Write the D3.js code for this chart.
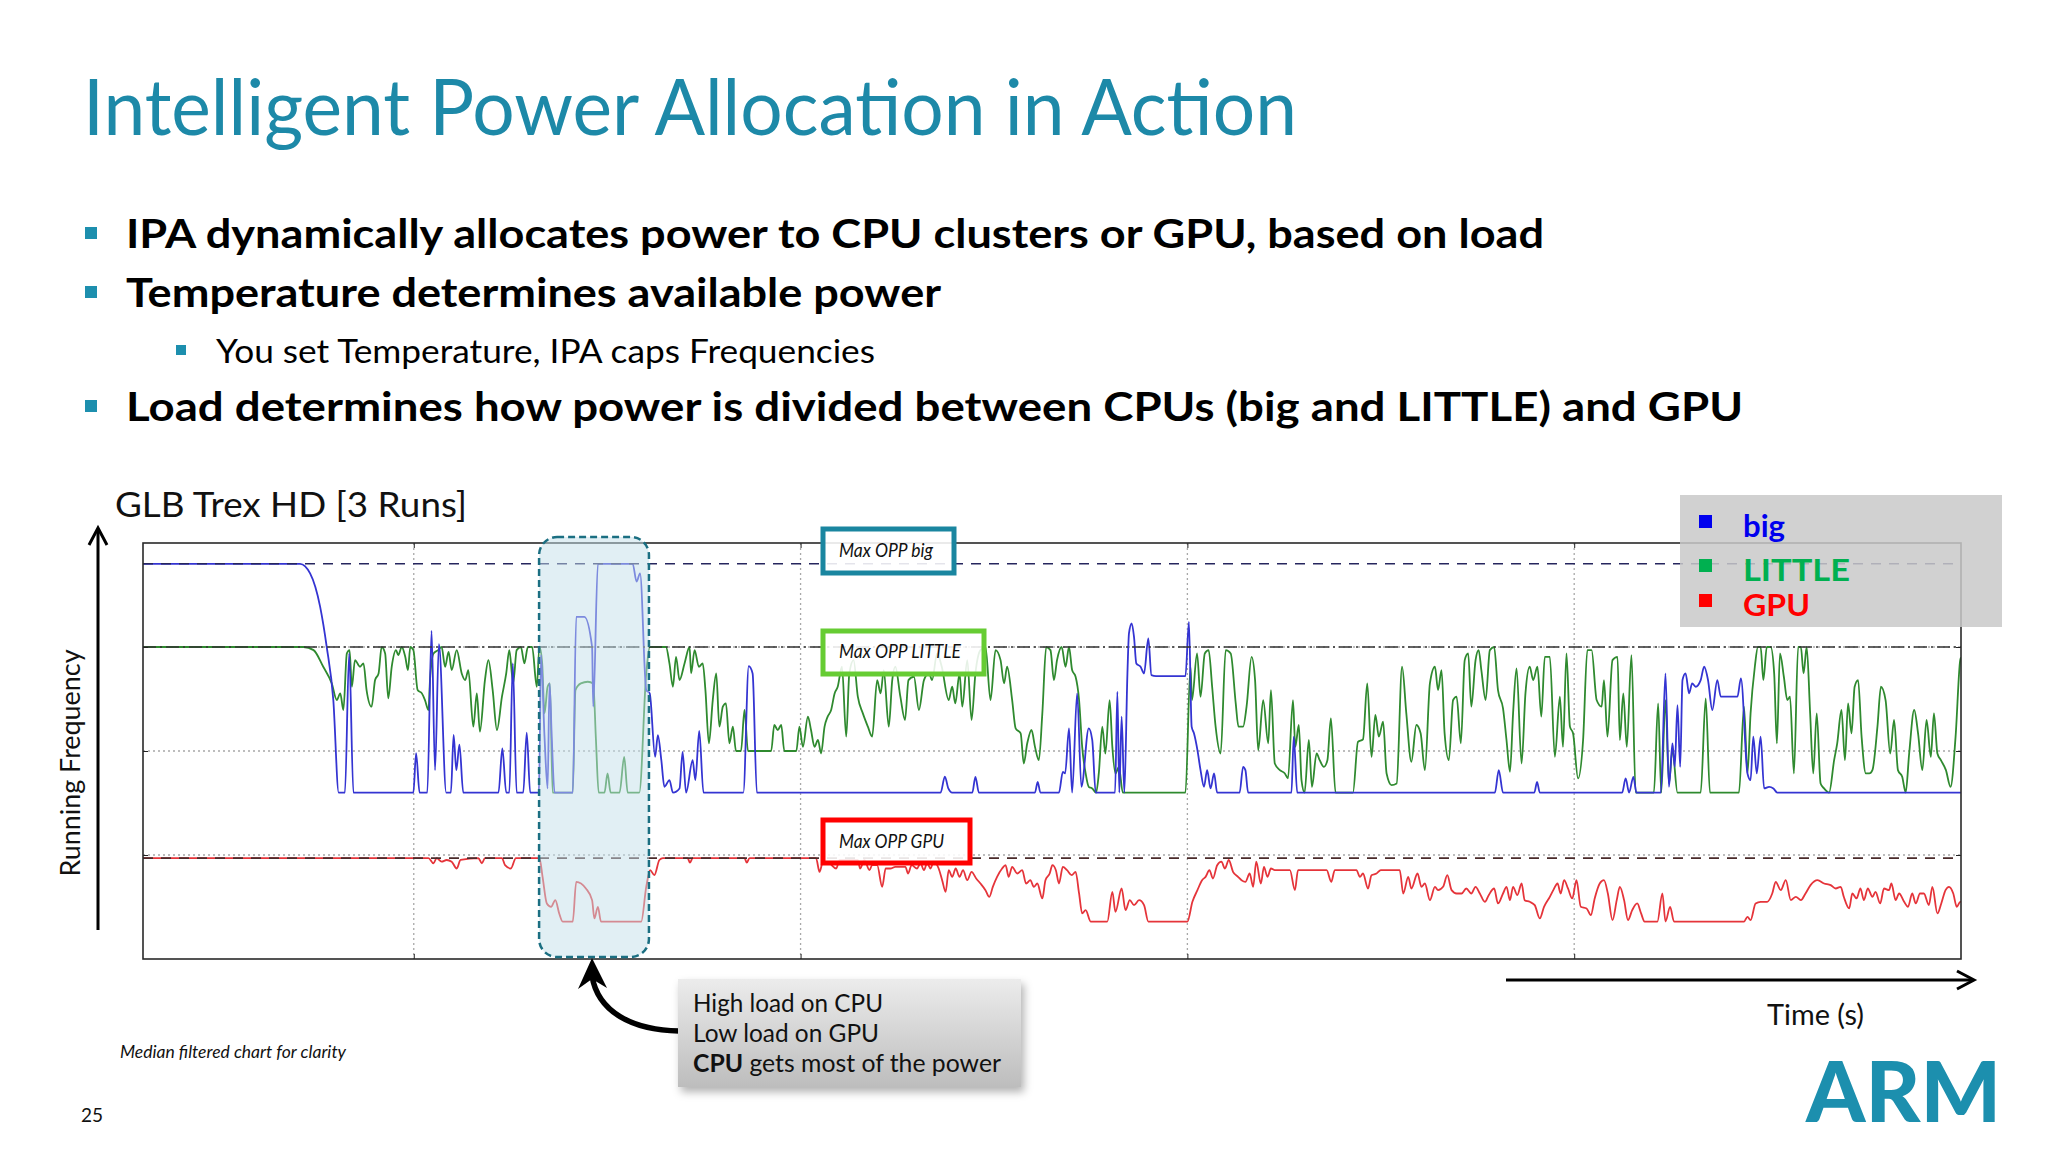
<!DOCTYPE html>
<html><head><meta charset="utf-8">
<script src="https://cdn.jsdelivr.net/npm/d3@7"></script>
<style>
html,body{margin:0;padding:0;background:#fff;}
svg{display:block;font-family:Lato,"Open Sans",sans-serif;}
</style></head><body>
<svg id="c" width="2048" height="1152"></svg>
<script>
// ---------------- DATA ----------------
const seriesNames = ["big", "LITTLE", "GPU"];
const maxOppLabels = ["Max OPP big", "Max OPP LITTLE", "Max OPP GPU"];
const maxOppLevels = [1900, 1500, 485];          // MHz
const timeTicks = [70, 170, 270, 370];            // s (grid)
const freqTicks = [500, 1000, 1500];              // MHz (grid)
const timeDomain = [0, 470];
const freqDomain = [0, 2000];
const highlightSpan = [102.4, 130.8];             // s, "High load on CPU" window

// [time (s), frequency (MHz)]
const bigRun = [[0,1900],[40.6,1900],[43.2,1854],[45.8,1693],[47.5,1500],[49.2,1245],[50.6,800],[52.2,800],[53.3,1469],[54.4,800],[69.9,800],[70.6,990],[71.5,800],[73.5,800],[74.6,1578],[75.5,908],[76.5,1514],[78.4,800],[79.6,800],[80.3,1077],[81.0,908],[81.8,1030],[82.8,800],[91.9,800],[92.9,1012],[93.9,800],[94.7,800],[95.6,1421],[96.6,800],[98.3,800],[99.2,1088],[100.1,800],[102.4,800],[102.9,1461],[103.8,1069],[104.6,820],[105.1,1325],[105.7,1053],[106.4,800],[111.1,800],[112.0,1645],[114.1,1645],[116.1,1500],[116.4,1213],[117.6,1900],[126.6,1900],[127.6,1814],[128.5,1854],[130.1,1293],[131.0,1277],[132.4,972],[133.1,1076],[134.0,956],[134.8,828],[136.1,860],[137.0,800],[138.7,820],[139.5,996],[140.4,800],[142.1,956],[142.8,860],[143.8,1097],[144.9,800],[155.2,800],[156.6,1408],[157.6,1373],[158.7,800],[206.2,800],[207.3,877],[208.2,820],[209.2,800],[214.4,800],[215.2,876],[216.1,800],[230.6,800],[231.3,852],[232.0,800],[236.8,800],[237.8,900],[238.4,892],[239.4,1109],[240.2,800],[241.5,1277],[242.6,828],[244.5,1109],[245.4,1053],[246.3,800],[251.3,800],[251.9,1285],[252.4,800],[253.0,1165],[253.7,800],[254.5,1373],[254.9,1565],[255.6,1613],[256.2,1549],[256.8,1421],[257.9,1405],[258.8,1373],[259.9,1541],[260.7,1365],[261.9,1360],[269.5,1360],[270.4,1621],[271.1,1117],[271.7,1085],[272.6,1004],[273.4,908],[274.3,828],[275.1,908],[276.0,820],[276.9,892],[277.7,800],[283.5,800],[284.4,924],[285.0,908],[285.7,800],[296.9,800],[297.5,1069],[298.4,800],[349.5,800],[350.5,908],[351.6,800],[359.7,800],[360.4,852],[361.1,800],[382.4,800],[383.3,868],[384.2,800],[385.3,876],[386.1,800],[392.4,800],[393.6,1373],[394.5,828],[395.4,1037],[396.0,924],[396.7,1221],[397.4,924],[398.0,1341],[398.8,1373],[399.7,1277],[400.5,1325],[401.4,1309],[402.7,1341],[403.6,1405],[404.6,1341],[405.7,1197],[407.0,1341],[407.9,1261],[412.2,1261],[413.1,1349],[414.8,892],[415.6,860],[416.3,1069],[417.2,892],[418.2,1069],[419.1,820],[420.4,828],[421.5,820],[422.5,800],[470,800]];

const littleRun = [[0,1500],[41.5,1500],[44.1,1485],[46.6,1405],[48.8,1325],[50.1,1245],[51.0,1277],[51.8,1197],[52.7,1469],[53.4,1485],[54.0,1309],[54.8,1437],[56.1,1405],[57.0,1421],[57.8,1293],[59.1,1213],[60.0,1341],[60.9,1373],[61.7,1500],[62.6,1469],[63.4,1253],[64.3,1405],[65.4,1485],[66.0,1461],[66.9,1500],[67.8,1453],[68.5,1389],[69.1,1500],[69.9,1485],[71.0,1293],[72.1,1277],[72.9,1245],[73.8,1197],[74.2,1341],[75.1,1469],[76.3,1485],[77.2,1500],[78.1,1405],[79.0,1477],[79.8,1389],[81.1,1485],[82.4,1373],[83.3,1341],[84.1,1389],[85.4,1117],[86.3,1277],[87.1,1093],[88.4,1341],[89.3,1437],[90.4,1293],[91.5,1101],[92.8,1261],[93.9,1373],[94.7,1485],[95.7,1325],[96.6,1485],[97.7,1500],[98.6,1421],[99.5,1500],[100.6,1500],[101.8,1309],[102.5,1500],[103.2,1421],[103.8,1181],[104.6,1309],[105.2,1325],[105.9,800],[111.1,800],[111.8,1293],[113.2,1325],[115.0,1333],[116.4,1325],[117.1,1053],[117.8,800],[119.3,800],[120.1,892],[120.9,800],[123.2,800],[124.4,972],[125.3,800],[128.3,800],[130.1,1373],[131.0,1500],[135.2,1500],[136.1,1421],[137.0,1309],[137.8,1453],[138.7,1341],[140.0,1421],[141.3,1500],[141.7,1373],[142.6,1485],[143.7,1405],[144.7,1421],[145.4,1293],[146.3,1037],[147.3,1245],[148.2,1373],[149.0,1117],[149.9,1213],[150.7,1229],[151.6,1037],[152.5,1117],[153.3,1000],[154.6,1000],[155.5,1197],[156.4,1000],[162.4,1000],[163.2,1125],[164.1,1101],[165.0,1125],[165.8,1000],[168.9,1000],[169.7,1117],[170.6,1020],[171.9,1165],[172.7,1101],[173.6,1020],[174.5,1053],[175.3,988],[176.2,1117],[177.0,1165],[177.9,1197],[178.8,1277],[179.6,1309],[180.7,1405],[181.8,1069],[182.6,1373],[183.7,1437],[184.8,1261],[186.1,1181],[187.4,1117],[188.5,1069],[189.8,1341],[190.7,1277],[191.5,1389],[192.8,1117],[193.7,1341],[194.5,1405],[195.8,1261],[197.0,1149],[197.9,1341],[199.3,1357],[200.6,1197],[201.9,1341],[203.2,1373],[204.0,1341],[205.3,1469],[206.5,1405],[208.3,1245],[209.2,1309],[210.0,1229],[211.1,1373],[211.8,1213],[213.1,1437],[214.2,1149],[215.2,1373],[216.5,1485],[217.8,1500],[219.1,1245],[220.4,1485],[221.7,1437],[222.6,1325],[223.4,1405],[224.7,1245],[225.6,1109],[226.9,1085],[227.7,940],[228.6,1037],[229.7,1101],[230.6,1020],[231.6,956],[232.5,1181],[233.5,1500],[234.6,1485],[235.5,1341],[236.3,1437],[237.5,1500],[238.5,1405],[239.4,1500],[240.2,1389],[241.1,1357],[242.0,1245],[242.8,1020],[243.7,892],[244.5,828],[245.4,820],[246.4,800],[247.1,892],[248.0,1117],[248.8,988],[249.9,1245],[250.6,1020],[251.4,892],[252.3,924],[253.3,800],[269.5,800],[270.8,1405],[271.2,1245],[272.5,1469],[273.4,1261],[274.5,1469],[275.5,1485],[276.4,1309],[277.3,1117],[278.6,988],[279.9,1485],[281.2,1469],[282.5,1229],[283.2,1117],[284.4,1117],[285.3,1213],[286.6,1453],[287.5,1341],[288.3,1004],[289.6,1245],[290.9,1037],[291.6,1293],[292.6,940],[293.9,908],[295.2,892],[296.0,868],[297.3,1245],[297.9,1020],[298.8,1125],[299.5,860],[300.3,800],[301.4,1053],[302.2,828],[303.4,988],[304.2,956],[305.3,924],[306.2,956],[307.1,1157],[308.3,800],[312.8,800],[314.1,1044],[315.4,1056],[316.5,1325],[317.6,972],[318.6,1173],[319.5,1069],[320.6,1141],[321.5,892],[322.8,836],[324.1,844],[325.5,1405],[326.6,1181],[327.9,948],[329.2,1125],[330.3,1085],[331.4,908],[332.7,1325],[334.0,1405],[334.8,1293],[335.7,1389],[336.5,1085],[337.6,956],[338.7,1245],[339.6,1261],[340.7,1037],[341.7,1437],[342.6,1469],[343.4,1213],[344.5,1437],[345.3,1485],[346.0,1389],[347.1,1245],[348.2,1485],[349.3,1500],[350.3,1293],[351.6,1205],[352.5,1053],[353.4,900],[354.2,1181],[355.1,1397],[356.4,940],[357.4,1277],[358.5,1405],[359.4,1341],[360.5,1405],[361.5,1165],[362.4,1453],[363.7,1453],[365.0,972],[366.3,1261],[367.1,1020],[368.0,1469],[368.9,1117],[369.7,1085],[371.0,868],[372.3,1053],[373.4,1485],[374.5,1485],[375.8,1245],[377.1,1213],[377.7,1341],[378.6,1069],[379.9,1437],[381.2,1453],[381.8,1053],[382.7,1277],[383.6,1020],[384.8,1461],[385.9,800],[390.6,800],[391.7,1229],[392.5,800],[393.6,1245],[394.5,844],[395.4,1004],[396.7,800],[402.7,800],[404.0,1253],[405.1,800],[412.6,800],[413.9,1213],[414.8,892],[415.6,1181],[416.7,1405],[417.5,1500],[418.2,1500],[418.9,1341],[419.8,1500],[420.8,1500],[421.7,1373],[422.4,1037],[423.2,1469],[424.2,1357],[425.1,1245],[425.8,1261],[426.8,892],[427.9,1500],[428.6,1500],[429.3,1373],[430.1,1500],[431.0,1181],[431.8,892],[432.7,1181],[433.7,844],[434.6,820],[435.9,800],[437.2,956],[438.0,1037],[439.1,1197],[440.0,956],[440.8,1229],[441.7,1085],[442.5,1309],[443.4,1341],[444.3,1069],[445.4,892],[446.3,892],[447.1,908],[448.4,1117],[449.3,1309],[450.5,1245],[451.7,988],[452.7,1149],[453.7,908],[454.8,876],[455.7,800],[456.6,988],[457.9,1197],[458.9,1085],[460.0,908],[461.1,1149],[462.2,972],[463.0,1181],[463.9,988],[464.8,956],[466.1,908],[467.3,828],[468.6,1069],[469.8,1437],[470,1450]];

const gpuRun = [[0,485],[73.8,485],[75.1,460],[75.9,485],[77.2,468],[78.5,476],[79.8,468],[81.1,435],[82.1,476],[86.7,485],[87.6,460],[88.4,485],[92.8,485],[93.6,451],[95.1,435],[96.4,485],[102.5,485],[103.3,395],[104.4,267],[105.5,251],[106.6,283],[107.6,219],[108.5,180],[111.1,180],[112.0,371],[114.5,339],[116.1,283],[116.7,195],[117.6,251],[118.4,180],[128.8,180],[130.1,347],[131.1,427],[132.2,403],[133.5,476],[134.4,485],[140.8,485],[141.4,463],[142.1,485],[155.5,485],[156.1,463],[156.8,485],[174.0,485],[174.9,419],[175.8,468],[177.5,460],[179.2,435],[180.1,476],[184.8,476],[185.4,435],[186.5,476],[187.8,427],[188.5,451],[189.8,451],[191.1,347],[192.0,435],[193.2,435],[194.5,443],[197.1,443],[197.8,411],[198.7,451],[200.1,435],[201.0,460],[201.9,427],[202.7,460],[203.6,435],[204.4,468],[205.7,435],[206.6,379],[207.5,323],[208.3,427],[209.2,395],[210.1,435],[211.1,395],[212.0,427],[213.1,379],[214.2,419],[215.4,387],[216.5,363],[217.8,331],[218.8,299],[219.7,347],[220.8,395],[222.1,435],[223.0,451],[223.8,395],[224.7,443],[226.0,411],[227.3,427],[228.3,363],[229.4,379],[230.3,347],[231.2,363],[232.5,291],[233.3,379],[234.4,411],[235.1,451],[236.0,427],[236.8,363],[237.8,443],[238.9,427],[240.1,403],[241.1,419],[242.0,315],[242.8,219],[243.7,235],[245.0,180],[249.3,180],[250.6,323],[251.4,227],[253.0,339],[254.0,235],[255.1,283],[256.2,259],[257.5,283],[258.8,259],[259.9,180],[270.0,180],[271.3,275],[272.6,331],[273.8,379],[274.7,395],[275.7,427],[276.6,387],[277.7,451],[278.8,468],[279.7,435],[280.7,476],[281.8,419],[283.1,395],[284.0,379],[285.0,371],[286.1,411],[287.0,347],[287.8,468],[289.0,363],[289.8,443],[290.7,395],[291.6,435],[292.6,427],[296.5,427],[297.8,331],[298.6,427],[306.0,427],[307.2,371],[308.1,427],[313.7,427],[314.6,395],[315.4,411],[316.7,339],[317.6,403],[318.9,411],[320.0,427],[324.9,427],[325.8,315],[327.1,395],[327.9,339],[329.5,411],[330.5,347],[331.4,363],[332.7,283],[334.0,347],[334.8,331],[336.1,347],[337.2,403],[338.3,331],[339.6,315],[340.9,315],[342.1,339],[343.4,315],[344.5,347],[345.6,315],[346.9,275],[347.9,307],[349.3,339],[350.3,267],[351.6,315],[352.5,347],[353.4,283],[354.2,347],[355.3,307],[356.4,363],[357.2,283],[358.5,275],[359.8,259],[361.1,195],[362.2,251],[363.7,299],[364.6,331],[365.7,363],[366.5,315],[367.4,379],[368.4,339],[369.5,291],[370.6,379],[371.7,251],[373.2,243],[374.3,211],[375.3,291],[376.6,363],[377.7,379],[378.7,315],[379.9,187],[381.0,283],[381.8,347],[382.9,283],[383.9,187],[385.0,235],[386.3,267],[387.3,219],[388.2,180],[391.5,180],[392.8,315],[393.6,180],[394.8,251],[395.8,180],[413.9,180],[414.8,203],[415.6,187],[416.9,267],[418.2,275],[419.9,275],[421.2,315],[422.1,371],[423.4,331],[424.7,379],[426.0,283],[427.3,299],[428.6,283],[429.8,315],[431.1,355],[432.9,379],[434.6,363],[436.3,355],[437.6,339],[438.9,347],[439.7,299],[441.1,243],[441.9,315],[443.0,291],[444.0,339],[444.9,283],[445.9,339],[447.1,299],[447.9,323],[449.1,267],[450.1,339],[451.4,331],[452.0,363],[453.1,283],[454.0,315],[455.3,275],[456.3,251],[457.4,315],[458.3,267],[459.4,315],[460.4,315],[461.7,259],[462.6,347],[463.9,219],[464.9,267],[466.0,331],[466.9,347],[468.0,315],[468.9,251],[469.8,275],[470,275]];

const runs = [bigRun, littleRun, gpuRun];

// ---------------- DRAW ----------------
const svg = d3.select('#c');
const P = {l:143, r:1961, t:543, b:959};
const x = d3.scaleLinear().domain(timeDomain).range([P.l, P.r]);
const y = d3.scaleLinear().domain(freqDomain).range([P.b, P.t]);

const defs = svg.append('defs');
defs.append('clipPath').attr('id','pc').append('rect')
  .attr('x',P.l).attr('y',P.t).attr('width',P.r-P.l).attr('height',P.b-P.t);
const gr = defs.append('linearGradient').attr('id','boxg').attr('x1',0).attr('y1',0).attr('x2',0).attr('y2',1);
gr.append('stop').attr('offset','0%').attr('stop-color','#ececec');
gr.append('stop').attr('offset','100%').attr('stop-color','#bdbdbd');
const f = defs.append('filter').attr('id','sh').attr('x','-10%').attr('y','-10%').attr('width','130%').attr('height','140%');
f.append('feDropShadow').attr('dx',3).attr('dy',5).attr('stdDeviation',4).attr('flood-color','#000').attr('flood-opacity',0.3);

const teal = '#1d89a8';

// Title
svg.append('text').attr('x',83).attr('y',135).attr('font-size',78).attr('fill',teal)
  .attr('textLength',1214).attr('lengthAdjust','spacingAndGlyphs')
  .text('Intelligent Power Allocation in Action');

// Bullets
const bullets = [
  {t:'IPA dynamically allocates power to CPU clusters or GPU, based on load', x:126, y:248, w:1418, lvl:0},
  {t:'Temperature determines available power', x:126, y:307, w:815, lvl:0},
  {t:'You set Temperature, IPA caps Frequencies', x:216, y:363, w:659, lvl:1},
  {t:'Load determines how power is divided between CPUs (big and LITTLE) and GPU', x:126, y:421, w:1617, lvl:0}
];
bullets.forEach(b=>{
  const s = b.lvl ? 10 : 12;
  svg.append('rect').attr('x', b.lvl?176:85).attr('y', b.y - (b.lvl?18:21)).attr('width',s).attr('height',s).attr('fill','#1d8fae');
  svg.append('text').attr('x',b.x).attr('y',b.y).attr('font-size', b.lvl?33:40)
    .attr('font-weight', b.lvl?400:700).attr('fill','#000')
    .attr('textLength',b.w).attr('lengthAdjust','spacingAndGlyphs').text(b.t);
});

// Chart title
svg.append('text').attr('x',115).attr('y',517).attr('font-size',35).attr('fill','#111')
  .attr('textLength',352).attr('lengthAdjust','spacingAndGlyphs').text('GLB Trex HD [3 Runs]');

// Grid
const grid = svg.append('g');
grid.selectAll('.vg').data(timeTicks).join('line')
  .attr('x1',d=>x(d)).attr('x2',d=>x(d)).attr('y1',P.t).attr('y2',P.b)
  .attr('stroke','#a8a8a8').attr('stroke-width',1.3).attr('stroke-dasharray','2,3');
grid.selectAll('.hg').data(freqTicks).join('line')
  .attr('x1',P.l).attr('x2',P.r).attr('y1',d=>y(d)).attr('y2',d=>y(d))
  .attr('stroke','#a8a8a8').attr('stroke-width',1.3).attr('stroke-dasharray','2,3');

// Data lines
const line = d3.line().x(d=>x(d[0])).y(d=>y(d[1])).curve(d3.curveMonotoneX);
const lineColors = ['#3434d2', '#2f8a2f', '#e5343a'];
const drawOrder = [2, 1, 0];
const lg = svg.append('g').attr('clip-path','url(#pc)');
drawOrder.forEach(i=>{
  lg.append('path').datum(runs[i]).attr('d',line).attr('fill','none')
    .attr('stroke',lineColors[i]).attr('stroke-width',1.8).attr('stroke-linejoin','round');
});

// Max OPP reference lines
const maxDash = ['10,8', '13,4,2,4', '10,8'];
const maxCol = ['#26265e', '#333333', '#4a2a2a'];
maxOppLevels.forEach((v,i)=>{
  svg.append('line').attr('x1',P.l).attr('x2',P.r).attr('y1',y(v)).attr('y2',y(v))
    .attr('stroke',maxCol[i]).attr('stroke-width',1.6).attr('stroke-dasharray',maxDash[i]);
});

// Axis ticks (inward) and frame
const ax = svg.append('g').attr('color','#222');
ax.append('g').attr('transform',`translate(0,${P.b})`).call(d3.axisBottom(x).tickValues(timeTicks).tickSize(-5).tickFormat(''));
ax.append('g').attr('transform',`translate(0,${P.t})`).call(d3.axisTop(x).tickValues(timeTicks).tickSize(-5).tickFormat(''));
ax.append('g').attr('transform',`translate(${P.l},0)`).call(d3.axisLeft(y).tickValues(freqTicks).tickSize(-5).tickFormat(''));
ax.append('g').attr('transform',`translate(${P.r},0)`).call(d3.axisRight(y).tickValues(freqTicks).tickSize(-5).tickFormat(''));
ax.selectAll('.domain').remove();
svg.append('rect').attr('x',P.l).attr('y',P.t).attr('width',P.r-P.l).attr('height',P.b-P.t)
  .attr('fill','none').attr('stroke','#2a2a2a').attr('stroke-width',1.6);

// Highlight window
svg.append('rect').attr('x',x(highlightSpan[0])).attr('y',537)
  .attr('width',x(highlightSpan[1])-x(highlightSpan[0])).attr('height',420)
  .attr('rx',18).attr('ry',18)
  .attr('fill','#c4e0ea').attr('fill-opacity',0.5)
  .attr('stroke','#1b6f82').attr('stroke-width',2.5).attr('stroke-dasharray','7,4');

// Max OPP label boxes
const oppBoxes = [
  {y:529, h:44, w:131, tw:94, ty:557, c:'#1a86a0'},
  {y:631, h:43, w:161, tw:122, ty:658, c:'#66cc33'},
  {y:820, h:43, w:147, tw:105, ty:848, c:'#ff0000'}
];
oppBoxes.forEach((b,i)=>{
  svg.append('rect').attr('x',823).attr('y',b.y).attr('width',b.w).attr('height',b.h)
    .attr('fill','#fff').attr('fill-opacity',0.88).attr('stroke',b.c).attr('stroke-width',5);
  svg.append('text').attr('x',839).attr('y',b.ty).attr('font-size',20).attr('font-style','italic')
    .attr('fill','#111').attr('textLength',b.tw).attr('lengthAdjust','spacingAndGlyphs').text(maxOppLabels[i]);
});

// Legend
const legend = svg.append('g');
legend.append('rect').attr('x',1680).attr('y',495).attr('width',322).attr('height',132)
  .attr('fill','#c9c9c9').attr('fill-opacity',0.85);
const legCol = ['#0000ee', '#00b050', '#ff0000'];
const legY = [537, 581, 616];
const legW = [42, 107, 67];
seriesNames.forEach((n,i)=>{
  legend.append('rect').attr('x',1699).attr('y',legY[i]-22).attr('width',13).attr('height',13).attr('fill',legCol[i]);
  legend.append('text').attr('x',1743).attr('y',legY[i]).attr('font-size',30).attr('font-weight',700)
    .attr('fill',legCol[i]).attr('textLength',legW[i]).attr('lengthAdjust','spacingAndGlyphs').text(n);
});

// Axis arrows
const arr = svg.append('g').attr('stroke','#000').attr('fill','none').attr('stroke-width',3);
arr.append('line').attr('x1',98).attr('x2',98).attr('y1',529).attr('y2',930);
arr.append('polyline').attr('points','89,545 98,528 107,545');
arr.append('line').attr('x1',1506).attr('x2',1972).attr('y1',980).attr('y2',980);
arr.append('polyline').attr('points','1957,971 1974,980 1957,989');

svg.append('text').attr('transform','translate(80,763) rotate(-90)').attr('text-anchor','middle')
  .attr('font-size',27).attr('fill','#111').attr('textLength',227).attr('lengthAdjust','spacingAndGlyphs')
  .text('Running Frequency');
svg.append('text').attr('x',1767).attr('y',1025).attr('font-size',28).attr('fill','#111')
  .attr('textLength',97).attr('lengthAdjust','spacingAndGlyphs').text('Time (s)');

// Annotation box + curved arrow
svg.append('path').attr('d','M 679 1031 C 632 1030, 598 1012, 592 976')
  .attr('fill','none').attr('stroke','#000').attr('stroke-width',5.5);
svg.append('path').attr('d','M 592 958 L 607 988 L 592 979 L 578 989 Z').attr('fill','#000');
svg.append('rect').attr('x',678).attr('y',979).attr('width',343).attr('height',108)
  .attr('fill','url(#boxg)').attr('filter','url(#sh)');
const ann = [
  {t:null, y:1012, w:190, s:'High load on CPU'},
  {t:null, y:1042, w:186, s:'Low load on GPU'}
];
ann.forEach(a=>{
  svg.append('text').attr('x',693).attr('y',a.y).attr('font-size',25).attr('fill','#111')
    .attr('textLength',a.w).attr('lengthAdjust','spacingAndGlyphs').text(a.s);
});
const l3 = svg.append('text').attr('x',693).attr('y',1072).attr('font-size',25).attr('fill','#111')
  .attr('textLength',308).attr('lengthAdjust','spacingAndGlyphs');
l3.append('tspan').attr('font-weight',700).text('CPU');
l3.append('tspan').text(' gets most of the power');

// Footer
svg.append('text').attr('x',120).attr('y',1058).attr('font-size',17).attr('font-style','italic').attr('fill','#111')
  .attr('textLength',226).attr('lengthAdjust','spacingAndGlyphs').text('Median filtered chart for clarity');
svg.append('text').attr('x',81).attr('y',1122).attr('font-size',19).attr('fill','#111').text('25');
svg.append('text').attr('x',1806).attr('y',1122).attr('font-size',84).attr('font-weight',900).attr('fill','#1c8fae')
  .attr('textLength',195).attr('lengthAdjust','spacingAndGlyphs').text('ARM');
</script>
</body></html>
